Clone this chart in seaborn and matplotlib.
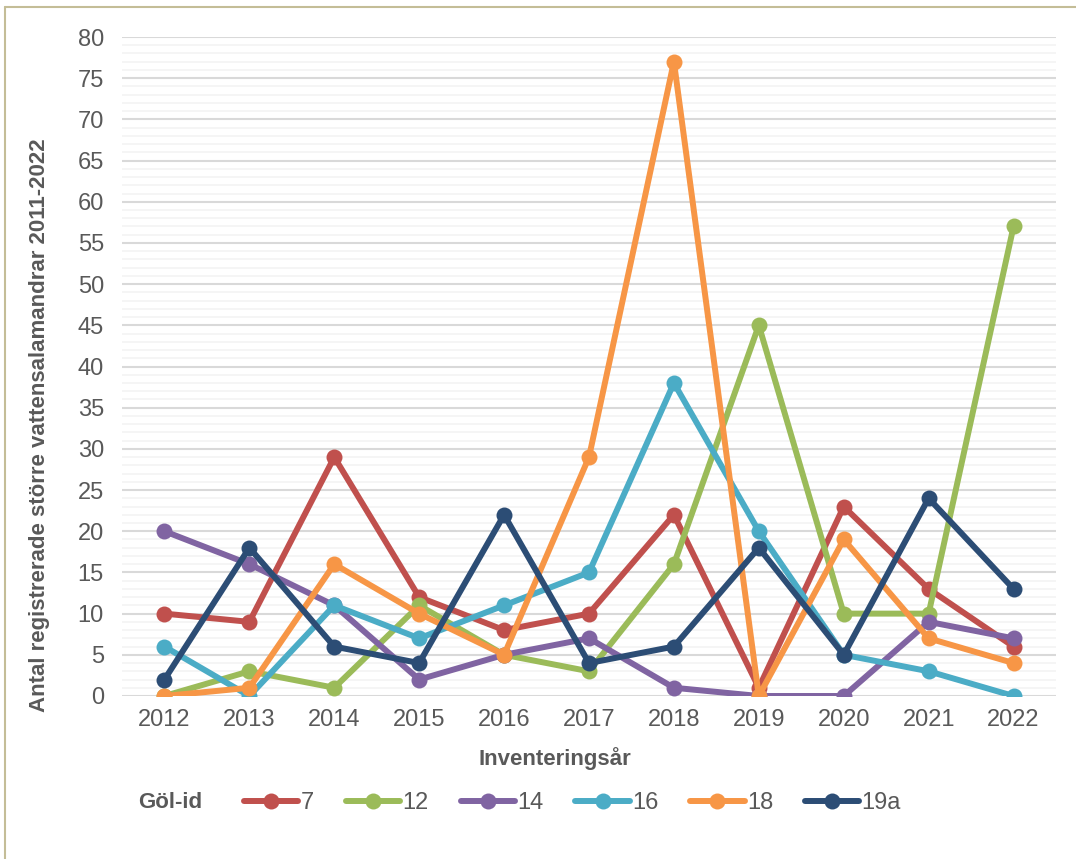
import matplotlib
matplotlib.use("Agg")
import matplotlib.pyplot as plt
from matplotlib.lines import Line2D
from matplotlib.ticker import MultipleLocator
import pandas as pd
import seaborn as sns

# Survey years and counts of great crested newts per pond (Göl-id)
years = [2012, 2013, 2014, 2015, 2016, 2017, 2018, 2019, 2020, 2021, 2022]
pond_ids = ["7", "12", "14", "16", "18", "19a"]
counts_7 = [10, 9, 29, 12, 8, 10, 22, 1, 23, 13, 6]
counts_12 = [0, 3, 1, 11, 5, 3, 16, 45, 10, 10, 57]
counts_14 = [20, 16, 11, 2, 5, 7, 1, 0, 0, 9, 7]
counts_16 = [6, 0, 11, 7, 11, 15, 38, 20, 5, 3, 0]
counts_18 = [0, 1, 16, 10, 5, 29, 77, 0, 19, 7, 4]
counts_19a = [2, 18, 6, 4, 22, 4, 6, 18, 5, 24, 13]
y_ticks = list(range(0, 81, 5))

series = [counts_7, counts_12, counts_14, counts_16, counts_18, counts_19a]
colors = ["#C0504D", "#9BBB59", "#8064A2", "#4BACC6", "#F79646", "#2C4D75"]

rows = []
for pid, vals in zip(pond_ids, series):
    for yr, v in zip(years, vals):
        rows.append({"year": yr, "count": v, "pond": pid})
df = pd.DataFrame(rows)

sns.set_theme(style="white")
plt.rcParams["font.family"] = ["Liberation Sans", "DejaVu Sans"]
text_color = "#595959"

W, H = 1076, 859
fig = plt.figure(figsize=(W / 100, H / 100), dpi=100)
ax = fig.add_axes([122 / W, 1 - 696 / H, (1056 - 122) / W, (696 - 37) / H])

palette = dict(zip(pond_ids, colors))
sns.lineplot(data=df, x="year", y="count", hue="pond", hue_order=pond_ids,
             palette=palette, marker="o", markersize=11.5, markeredgewidth=0,
             linewidth=4.3, ax=ax, legend=False, zorder=3)

ax.set_xlim(years[0] - 0.5, years[-1] + 0.5)
ax.set_ylim(0, 80)
ax.set_xticks(years)
ax.set_xticklabels([str(y) for y in years])
ax.set_yticks(y_ticks)
ax.yaxis.set_minor_locator(MultipleLocator(1))
ax.grid(False)
ax.grid(axis="y", which="minor", color="#F2F2F2", linewidth=1.1, zorder=0)
ax.grid(axis="y", which="major", color="#D9D9D9", linewidth=1.5, zorder=1)
ax.set_axisbelow(True)
for s in ax.spines.values():
    s.set_visible(False)
ax.tick_params(axis="both", which="both", length=0, labelsize=17, labelcolor=text_color)
ax.tick_params(axis="y", pad=13)
ax.tick_params(axis="x", pad=9)

ax.set_xlabel("Inventeringsår", fontsize=16, fontweight="bold", color=text_color)
ax.set_ylabel("Antal registrerade större vattensalamandrar 2011-2022",
              fontsize=16, fontweight="bold", color=text_color)
ax.xaxis.set_label_coords((555 - 122) / 934, -0.078)
ax.yaxis.set_label_coords((50 - 122) / 934, 0.411)

# Legend row below the axis
handles = [Line2D([0], [0], color=c, lw=4.3, marker="o", markersize=11.5,
                  markeredgewidth=0) for c in colors]
fig.text(138 / W, 1 - 803 / H, "Göl-id", fontsize=16, fontweight="bold",
         color=text_color, ha="left", va="center")
leg = fig.legend(handles, pond_ids, loc="center left",
                 bbox_to_anchor=(244 / W, 1 - 803 / H), ncol=6, frameon=False,
                 fontsize=17, handlelength=2.3, handletextpad=0.1,
                 columnspacing=1.35, borderpad=0, borderaxespad=0, numpoints=1)
for t in leg.get_texts():
    t.set_color(text_color)

# Chart-area border along the left and top edges
border = "#C4BD97"
fig.add_artist(Line2D([5 / W, 5 / W], [0, 1 - 7 / H], color=border, lw=1.5,
                      transform=fig.transFigure))
fig.add_artist(Line2D([5 / W, 1], [1 - 7 / H, 1 - 7 / H], color=border, lw=1.5,
                      transform=fig.transFigure))

fig.savefig("out.png", dpi=100, facecolor="white")
